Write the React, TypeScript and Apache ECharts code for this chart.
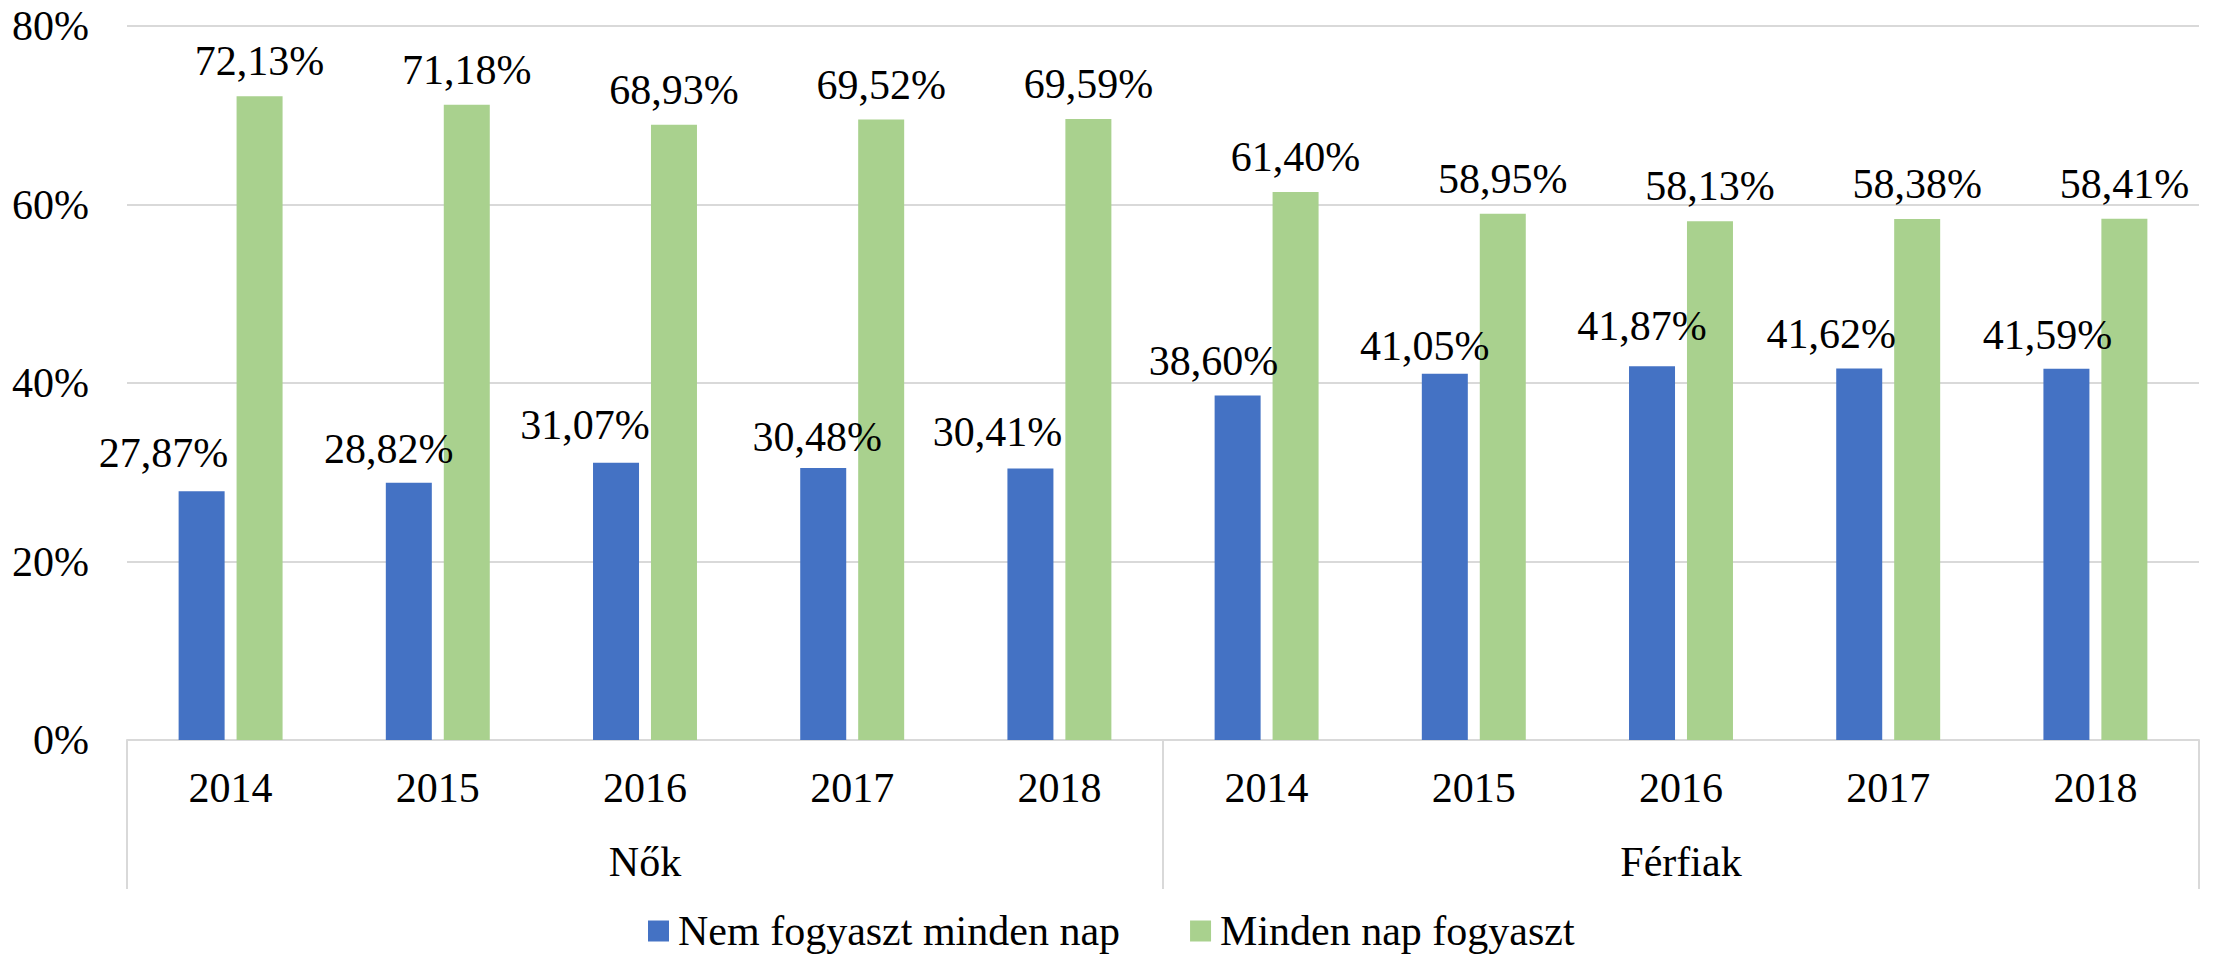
import React, { useEffect, useRef } from "react";
import * as echarts from "echarts";

const years = ["2014", "2015", "2016", "2017", "2018", "2014", "2015", "2016", "2017", "2018"];
const groups = ["Nők", "Férfiak"];
const seriesNames = ["Nem fogyaszt minden nap", "Minden nap fogyaszt"];
const notDaily = [27.87, 28.82, 31.07, 30.48, 30.41, 38.6, 41.05, 41.87, 41.62, 41.59];
const daily = [72.13, 71.18, 68.93, 69.52, 69.59, 61.4, 58.95, 58.13, 58.38, 58.41];
const yTicks = [0, 20, 40, 60, 80];

// label nudges (pixels) for the blue series' labels, as placed in the source
const blueLabelOffsets: [number, number][] = [
  [-38, -3], [-20, 1], [-31, -3], [-6, 4], [-33, -2],
  [-24, 1], [-20, 7], [-10, -5], [-28, 0], [-19, 1],
];

const FONT = "Liberation Serif";
const fmt = (v: number) => v.toFixed(2).replace(".", ",") + "%";

export default function App() {
  const ref = useRef<HTMLDivElement>(null);
  useEffect(() => {
    if (!ref.current) return;
    const chart = echarts.init(ref.current, null, { renderer: "svg" });
    const labelBase = {
      show: true,
      position: "top",
      distance: 14,
      fontSize: 42,
      fontFamily: FONT,
      color: "#000",
      formatter: (p: any) => fmt(p.value),
    };
    chart.setOption({
      animation: false,
      backgroundColor: "#fff",
      textStyle: { fontFamily: FONT },
      grid: { left: 127, right: 15, top: 26, bottom: 216, containLabel: false },
      legend: {
        data: seriesNames,
        left: 648,
        top: 910,
        padding: 0,
        icon: "rect",
        itemWidth: 21,
        itemHeight: 21,
        itemGap: 70,
        textStyle: { fontSize: 42, fontFamily: FONT, color: "#000", padding: [0, 0, 0, 4] },
      },
      xAxis: [
        {
          type: "category",
          data: years,
          axisLine: { show: true, lineStyle: { color: "#d9d9d9", width: 2 } },
          axisTick: { show: false },
          axisLabel: { fontSize: 42, fontFamily: FONT, color: "#000", margin: 27, interval: 0 },
        },
        {
          type: "category",
          data: groups,
          position: "bottom",
          axisLine: { show: false },
          axisTick: { show: true, length: 149, interval: 0, lineStyle: { color: "#d9d9d9", width: 2 } },
          axisLabel: { fontSize: 42, fontFamily: FONT, color: "#000", margin: 101, interval: 0 },
          splitLine: { show: false },
        },
      ],
      yAxis: {
        type: "value",
        min: yTicks[0],
        max: yTicks[yTicks.length - 1],
        interval: 20,
        axisLine: { show: false },
        axisTick: { show: false },
        axisLabel: { fontSize: 42, fontFamily: FONT, color: "#000", margin: 38, formatter: "{value}%" },
        splitLine: { lineStyle: { color: "#d9d9d9", width: 2 } },
      },
      series: [
        {
          name: seriesNames[0],
          type: "bar",
          xAxisIndex: 0,
          barWidth: 46,
          barGap: "26%",
          itemStyle: { color: "#4472C4" },
          label: labelBase,
          data: notDaily.map((v, i) => ({ value: v, label: { offset: blueLabelOffsets[i] } })),
        },
        {
          name: seriesNames[1],
          type: "bar",
          xAxisIndex: 0,
          barWidth: 46,
          barGap: "26%",
          itemStyle: { color: "#A9D18E" },
          label: labelBase,
          data: daily,
        },
      ],
    });
    return () => chart.dispose();
  }, []);
  return (
    <div
      ref={ref}
      style={{ position: "fixed", left: 0, top: 0, width: 2214, height: 956, background: "#fff" }}
    />
  );
}
